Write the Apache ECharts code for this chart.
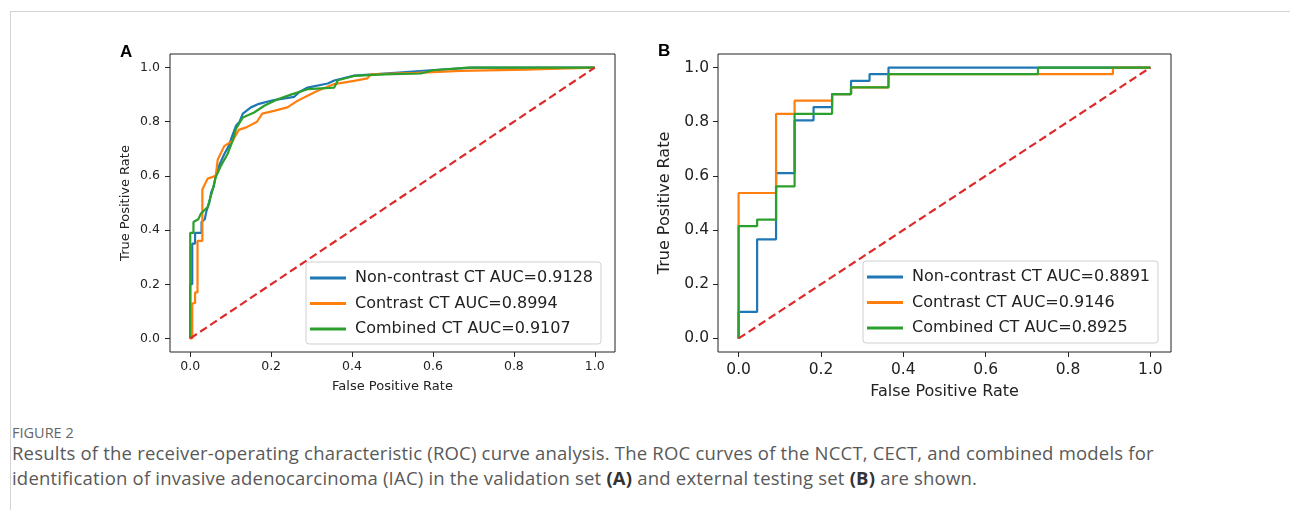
<!DOCTYPE html>
<html>
<head>
<meta charset="utf-8">
<script src="https://cdn.jsdelivr.net/npm/echarts@6.0.0/dist/echarts.min.js"></script>
<style>
    html, body { margin: 0; padding: 0; background: #fff; }
    body { width: 1290px; height: 510px; position: relative; overflow: hidden; }
    .frame {
        position: absolute; left: 10px; top: 11px; width: 1300px; height: 600px;
        border-top: 1px solid #d4d4d4; border-left: 1px solid #d4d4d4;
    }
    #chart { position: absolute; left: 0; top: 0; width: 1290px; height: 410px; }
    .figlabel {
        position: absolute; left: 12px; top: 423px;
        font-family: 'Open Sans', sans-serif; font-size: 14.5px; color: #666;
    }
    .caption {
        position: absolute; left: 12px; top: 440px; width: 1270px;
        font-family: 'Open Sans', sans-serif; font-size: 18.5px; line-height: 25px; color: #595959;
        letter-spacing: 0.2px; white-space: nowrap;
    }
    .caption b { color: #333; }
</style>
</head>
<body>
<div class="frame"></div>
<div id="chart"></div>
<div class="figlabel">FIGURE 2</div>
<div class="caption">Results of the receiver-operating characteristic (ROC) curve analysis. The ROC curves of the NCCT, CECT, and combined models for<br>identification of invasive adenocarcinoma (IAC) in the validation set <b>(A)</b> and external testing set <b>(B)</b> are shown.</div>

<script>
// tick positions shared by both panels
const ticks = [0, 0.2, 0.4, 0.6, 0.8, 1.0];
const diagonal = [[0, 0], [1, 1]];

// panel A: validation set, [fpr, tpr]
const namesA = ['Non-contrast CT AUC=0.9128', 'Contrast CT AUC=0.8994', 'Combined CT AUC=0.9107'];
const nonContrastA = [[0, 0], [0, 0.20], [0.005, 0.20], [0.005, 0.35], [0.012, 0.35], [0.012, 0.39], [0.028, 0.39],
    [0.028, 0.43], [0.036, 0.44], [0.04, 0.47], [0.047, 0.50], [0.052, 0.54], [0.058, 0.56], [0.063, 0.60],
    [0.072, 0.64], [0.084, 0.68], [0.095, 0.71], [0.102, 0.74], [0.113, 0.785], [0.122, 0.80], [0.13, 0.83],
    [0.15, 0.853], [0.17, 0.866], [0.207, 0.88], [0.257, 0.892], [0.27, 0.91], [0.29, 0.926], [0.34, 0.941],
    [0.356, 0.952], [0.405, 0.97], [0.48, 0.978], [0.594, 0.99], [0.70, 1.0], [1, 1]];
const contrastA = [[0, 0], [0.005, 0], [0.005, 0.13], [0.012, 0.13], [0.012, 0.17], [0.018, 0.17], [0.018, 0.36],
    [0.03, 0.36], [0.03, 0.55], [0.043, 0.59], [0.063, 0.60], [0.068, 0.66], [0.084, 0.71], [0.105, 0.73],
    [0.12, 0.77], [0.14, 0.78], [0.165, 0.80], [0.178, 0.83], [0.207, 0.84], [0.24, 0.853], [0.265, 0.877],
    [0.29, 0.896], [0.315, 0.914], [0.356, 0.939], [0.405, 0.951], [0.438, 0.96], [0.446, 0.975], [0.56, 0.98],
    [0.668, 0.988], [0.83, 0.992], [0.867, 0.994], [0.867, 1.0], [1, 1]];
const combinedA = [[0, 0], [0, 0.39], [0.008, 0.39], [0.008, 0.43], [0.02, 0.44], [0.026, 0.46], [0.043, 0.485],
    [0.055, 0.546], [0.063, 0.595], [0.076, 0.638], [0.092, 0.68], [0.105, 0.73], [0.113, 0.773], [0.13, 0.816],
    [0.158, 0.834], [0.183, 0.859], [0.216, 0.883], [0.249, 0.9], [0.29, 0.92], [0.356, 0.926], [0.365, 0.953],
    [0.405, 0.969], [0.48, 0.975], [0.57, 0.978], [0.6, 0.99], [0.685, 1.0], [1, 1]];

// panel B: external testing set
const namesB = ['Non-contrast CT AUC=0.8891', 'Contrast CT AUC=0.9146', 'Combined CT AUC=0.8925'];
const nonContrastB = [[0, 0], [0, 0.098], [0.045, 0.098], [0.045, 0.366], [0.091, 0.366], [0.091, 0.610],
    [0.136, 0.610], [0.136, 0.805], [0.182, 0.805], [0.182, 0.854], [0.227, 0.854], [0.227, 0.902],
    [0.273, 0.902], [0.273, 0.951], [0.318, 0.951], [0.318, 0.976], [0.364, 0.976], [0.364, 1], [1, 1]];
const contrastB = [[0, 0], [0, 0.537], [0.091, 0.537], [0.091, 0.829], [0.136, 0.829], [0.136, 0.878],
    [0.227, 0.878], [0.227, 0.902], [0.273, 0.902], [0.273, 0.927], [0.364, 0.927], [0.364, 0.976],
    [0.909, 0.976], [0.909, 1], [1, 1]];
const combinedB = [[0, 0], [0, 0.415], [0.045, 0.415], [0.045, 0.439], [0.091, 0.439], [0.091, 0.561],
    [0.136, 0.561], [0.136, 0.829], [0.227, 0.829], [0.227, 0.902], [0.273, 0.902], [0.273, 0.927],
    [0.364, 0.927], [0.364, 0.976], [0.727, 0.976], [0.727, 1], [1, 1]];

const colors = ['#1f77b4', '#ff7f0e', '#2ca02c'];
const font = 'DejaVu Sans';

const makeAxis = (idx, labelSize, nameSize, name, nameGap, margin) => ({
    type: 'value',
    gridIndex: idx,
    min: -0.05,
    max: 1.05,
    name: name,
    nameLocation: 'middle',
    nameGap: nameGap,
    nameTextStyle: { fontFamily: font, fontSize: nameSize, color: '#222' },
    axisLine: { show: false, onZero: false },
    splitLine: { show: false },
    axisTick: { show: true, length: 5, customValues: ticks, lineStyle: { color: '#222', width: 1 } },
    axisLabel: {
        customValues: ticks,
        margin: margin,
        fontFamily: font,
        fontSize: labelSize,
        color: '#222',
        formatter: (v) => v.toFixed(1)
    }
});

const curve = (name, data, idx, color) => ({
    name: name,
    type: 'line',
    xAxisIndex: idx,
    yAxisIndex: idx,
    data: data,
    symbol: 'none',
    lineStyle: { color: color, width: 2.2 },
    itemStyle: { color: color },
    animation: false
});

const chance = (idx) => ({
    name: 'chance',
    type: 'line',
    xAxisIndex: idx,
    yAxisIndex: idx,
    data: diagonal,
    symbol: 'none',
    lineStyle: { color: '#dd2a2a', width: 2.2, type: [8, 4] },
    animation: false
});

const legendCfg = (data, left, top) => ({
    data: data,
    orient: 'vertical',
    left: left,
    top: top,
    icon: 'rect',
    itemWidth: 36,
    itemHeight: 3,
    itemGap: 7.5,
    padding: [7, 8, 6, 4],
    borderColor: '#cfcfcf',
    borderWidth: 1,
    borderRadius: 3,
    backgroundColor: 'rgba(255,255,255,0.8)',
    selectedMode: false,
    textStyle: { fontFamily: font, fontSize: 16, color: '#222', lineHeight: 18, padding: [0, 0, 0, 4] }
});

const myChart = echarts.init(document.getElementById('chart'));
myChart.setOption({
    animation: false,
    grid: [
        { left: 170, top: 54, width: 445, height: 298, show: true, borderColor: '#222', borderWidth: 1 },
        { left: 718, top: 54, width: 453, height: 298, show: true, borderColor: '#222', borderWidth: 1 }
    ],
    xAxis: [
        makeAxis(0, 12.5, 13, 'False Positive Rate', 28, 8),
        makeAxis(1, 15.5, 16, 'False Positive Rate', 32, 10)
    ],
    yAxis: [
        makeAxis(0, 12.5, 13, 'True Positive Rate', 38, 10),
        makeAxis(1, 15.5, 16, 'True Positive Rate', 45, 9)
    ],
    legend: [legendCfg(namesA, 306, 262), legendCfg(namesB, 863, 261)],
    graphic: [
        { type: 'text', left: 120, top: 44, style: { text: 'A', font: 'bold 17px "Liberation Sans"', fill: '#000' } },
        { type: 'text', left: 658, top: 43, style: { text: 'B', font: 'bold 17px "Liberation Sans"', fill: '#000' } }
    ],
    series: [
        curve(namesA[0], nonContrastA, 0, colors[0]),
        curve(namesA[1], contrastA, 0, colors[1]),
        curve(namesA[2], combinedA, 0, colors[2]),
        chance(0),
        curve(namesB[0], nonContrastB, 1, colors[0]),
        curve(namesB[1], contrastB, 1, colors[1]),
        curve(namesB[2], combinedB, 1, colors[2]),
        chance(1)
    ]
});
</script>
</body>
</html>
